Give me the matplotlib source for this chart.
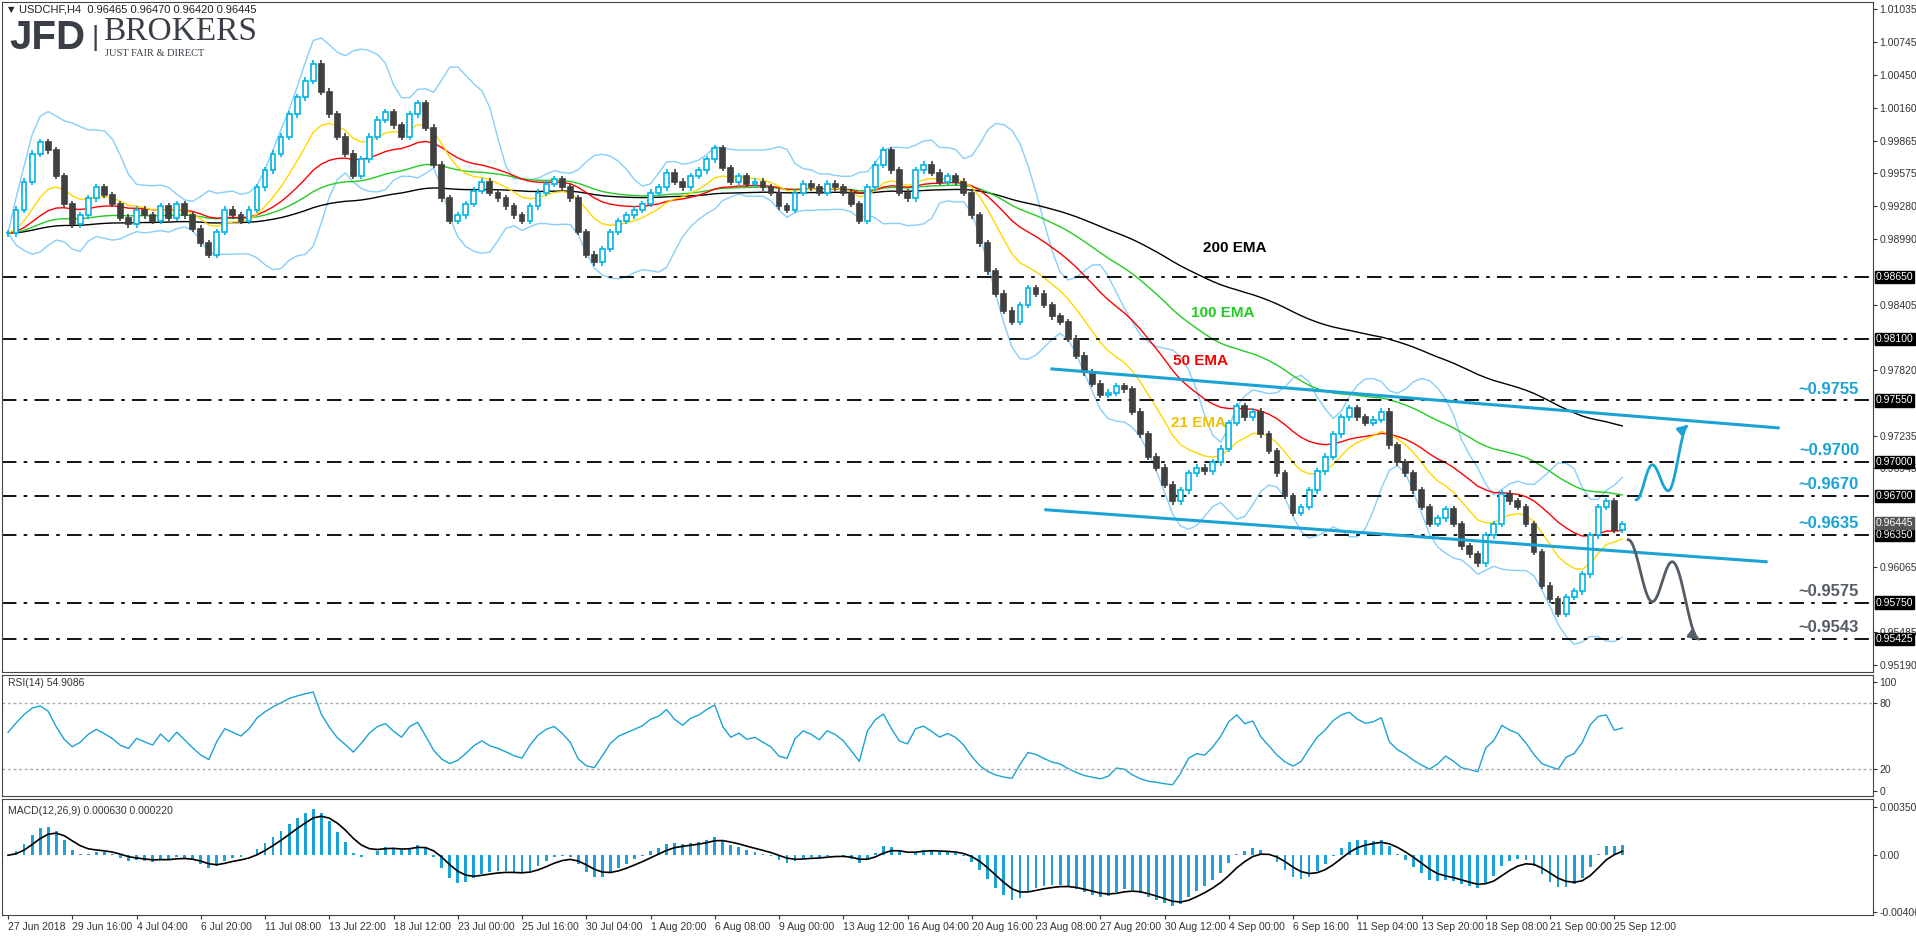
import numpy as np
import matplotlib
matplotlib.use("Agg")
import matplotlib.pyplot as plt
from matplotlib.patches import Rectangle

# ---------------- data ----------------
closes = [0.9904,0.9925,0.9950,0.9975,0.9985,0.9978,0.9955,0.9930,0.9912,0.9920,
          0.9935,0.9945,0.9938,0.9930,0.9918,0.9912,0.9925,0.9920,0.9915,0.9928,
          0.9918,0.9930,0.9920,0.9908,0.9895,0.9885,0.9905,0.9925,0.9920,0.9915,
          0.9925,0.9945,0.9960,0.9975,0.9990,1.0010,1.0025,1.0040,1.0055,1.0030,
          1.0010,0.9990,0.9975,0.9955,0.9970,0.9990,1.0005,1.0012,1.0000,0.9990,
          1.0010,1.0020,0.9998,0.9965,0.9935,0.9915,0.9920,0.9930,0.9942,0.9950,
          0.9940,0.9935,0.9928,0.9920,0.9915,0.9928,0.9940,0.9948,0.9952,0.9945,
          0.9935,0.9905,0.9885,0.9878,0.9890,0.9905,0.9915,0.9920,0.9925,0.9930,
          0.9940,0.9945,0.9958,0.9950,0.9945,0.9955,0.9960,0.9970,0.9980,0.9962,
          0.9950,0.9955,0.9948,0.9950,0.9945,0.9940,0.9928,0.9925,0.9940,0.9948,
          0.9945,0.9940,0.9948,0.9945,0.9940,0.9930,0.9915,0.9945,0.9965,0.9978,
          0.9960,0.9940,0.9935,0.9960,0.9965,0.9958,0.9950,0.9955,0.9950,0.9940,
          0.9920,0.9895,0.9870,0.9850,0.9835,0.9825,0.9840,0.9855,0.9850,0.9840,
          0.9830,0.9825,0.9810,0.9795,0.9780,0.9770,0.9760,0.9762,0.9768,0.9765,
          0.9745,0.9725,0.9705,0.9695,0.9680,0.9665,0.9675,0.9690,0.9695,0.9692,
          0.9700,0.9712,0.9735,0.9750,0.9740,0.9745,0.9725,0.9710,0.9690,0.9670,
          0.9655,0.9660,0.9675,0.9692,0.9705,0.9725,0.9740,0.9748,0.9740,0.9735,
          0.9738,0.9745,0.9715,0.9700,0.9690,0.9675,0.9660,0.9645,0.9650,0.9658,
          0.9645,0.9625,0.9618,0.9610,0.9635,0.9645,0.9672,0.9665,0.9660,0.9645,
          0.9620,0.9590,0.9578,0.9565,0.9580,0.9585,0.9600,0.9635,0.9660,0.9665,
          0.9640,0.9645]
date_labels = ["27 Jun 2018","29 Jun 16:00","4 Jul 04:00","6 Jul 20:00","11 Jul 08:00",
               "13 Jul 22:00","18 Jul 12:00","23 Jul 00:00","25 Jul 16:00","30 Jul 04:00",
               "1 Aug 20:00","6 Aug 08:00","9 Aug 00:00","13 Aug 12:00","16 Aug 04:00",
               "20 Aug 16:00","23 Aug 08:00","27 Aug 20:00","30 Aug 12:00","4 Sep 00:00",
               "6 Sep 16:00","11 Sep 04:00","13 Sep 20:00","18 Sep 08:00","21 Sep 00:00",
               "25 Sep 12:00"]
levels = [0.98650,0.98100,0.97550,0.97000,0.96700,0.96350,0.95750,0.95425]
level_texts = ["~0.9755","~0.9700","~0.9670","~0.9635","~0.9575","~0.9543"]
level_text_vals = [0.9755,0.9700,0.9670,0.9635,0.9575,0.9543]
price_ticks = [1.01035,1.00745,1.00450,1.00160,0.99865,0.99575,0.99280,0.98990,
               0.98405,0.97820,0.97235,0.96945,0.96065,0.95485,0.95190]
last_price = 0.96445

plt.rcParams['font.family'] = ['Liberation Sans', 'DejaVu Sans']

c = np.array(closes)
n = len(c)
o = np.r_[c[0], c[:-1]]
wick = 0.0003

def ema(x, p, init=None):
    a = 2/(p+1); out = np.empty_like(x); out[0] = x[0] if init is None else init
    for i in range(1, len(x)):
        out[i] = a*x[i] + (1-a)*out[i-1]
    return out

# ---------------- figure ----------------
W, H = 1916, 936
fig = plt.figure(figsize=(W/100, H/100), dpi=100)
fig.patch.set_facecolor("white")
L, R = 2/W, 1873/W
ax = fig.add_axes([L, 1-672/H, R-L, 670/H])
ax2 = fig.add_axes([L, 1-796/H, R-L, 121/H])
ax3 = fig.add_axes([L, 1-915/H, R-L, 116/H])
xmax = (1873-6)/8.04
for a in (ax, ax2, ax3):
    a.set_xlim(-0.75, xmax)
    a.yaxis.tick_right()
    a.tick_params(axis="y", labelsize=7.5, colors="#333333", length=3, pad=1.5)
    a.set_xticks([])
    for s in a.spines.values():
        s.set_color("#444444")
ax.set_ylim(0.95131, 1.0110)

def px_x(x): return (x-6)/8.04
def px_y(y): return 1.01035-(y-9)*8.9e-5

# Bollinger + EMAs
ma = np.array([c[max(0,i-9):i+1].mean() for i in range(n)])
sd = np.array([c[max(0,i-9):i+1].std() for i in range(n)])
idx = np.arange(n)
ax.plot(idx, ma+2*sd, color="#87cefa", lw=1)
ax.plot(idx, ma-2*sd, color="#87cefa", lw=1)
ax.plot(idx, ema(c, 100), color="black", lw=1)
ax.plot(idx, ema(c, 50), color="#22cc22", lw=1)
ax.plot(idx, ema(c, 25), color="red", lw=1)
ax.plot(idx, ema(c, 10.5), color="#ffd700", lw=1)

# candles
for i in range(n):
    up = c[i] >= o[i]
    col = "#00b4e6" if up else "#404040"
    lo_, hi_ = min(o[i], c[i]), max(o[i], c[i])
    ax.vlines(i, lo_-wick, hi_+wick, color=col, lw=1.2, zorder=3)
    h = max(hi_-lo_, 0.00004)
    ax.add_patch(Rectangle((i-0.3, lo_), 0.6, h, facecolor="white" if up else col,
                           edgecolor=col, lw=1.2, zorder=4))

# levels
for lv in levels:
    ax.axhline(lv, color="black", lw=1.3, ls=(0, (8, 4, 2, 4)), zorder=2)
    ax.text(1.0015, lv, f"{lv:.5f}", transform=ax.get_yaxis_transform(), va="center",
            ha="left", fontsize=7.5, color="white", zorder=6,
            bbox=dict(boxstyle="square,pad=0.1", fc="black", ec="black"))
ax.text(1.0015, last_price+0.0001, f"{last_price:.5f}", transform=ax.get_yaxis_transform(),
        va="center", ha="left", fontsize=7.5, color="white", zorder=6,
        bbox=dict(boxstyle="square,pad=0.1", fc="#555555", ec="#555555"))
ax.set_yticks(price_ticks)
ax.set_yticklabels([f"{t:.5f}" for t in price_ticks])

for t, v in zip(level_texts, level_text_vals):
    col = "#1aa3d4" if v > 0.96 else "#555c66"
    ax.text(px_x(1859), v+0.00035, t, ha="right", va="bottom", fontsize=12,
            fontweight="bold", color=col)

# channel lines
ax.plot([px_x(1051), px_x(1778)], [px_y(369), px_y(428)], color="#1aa3d4", lw=2.2, zorder=5)
ax.plot([px_x(1045), px_x(1766)], [px_y(510), px_y(562)], color="#1aa3d4", lw=2.2, zorder=5)

def wave(pts, col):
    xs, ys = [], []
    for (x0, y0), (x1, y1) in zip(pts[:-1], pts[1:]):
        t = np.linspace(0, 1, 30)
        s = (1-np.cos(np.pi*t))/2
        xs += list(x0+(x1-x0)*t); ys += list(y0+(y1-y0)*s)
    xs = [px_x(v) for v in xs]; ys = [px_y(v) for v in ys]
    ax.plot(xs[:-3], ys[:-3], color=col, lw=2, zorder=5)
    ax.annotate("", xy=(xs[-1], ys[-1]), xytext=(xs[-4], ys[-4]),
                arrowprops=dict(arrowstyle="-|>", color=col, lw=2, mutation_scale=14), zorder=5)

wave([(1636, 500), (1652, 465), (1668, 491), (1688, 425)], "#1aa3d4")
wave([(1628, 540), (1652, 602), (1672, 562), (1699, 640)], "#555c66")

ax.text(px_x(1202), px_y(248), "200 EMA", fontsize=11, fontweight="bold", color="black", va="center")
ax.text(px_x(1190), px_y(313), "100 EMA", fontsize=11, fontweight="bold", color="#22cc22", va="center")
ax.text(px_x(1172), px_y(361), "50 EMA", fontsize=11, fontweight="bold", color="red", va="center")
ax.text(px_x(1170), px_y(423), "21 EMA", fontsize=11, fontweight="bold", color="#f0c000", va="center")

# header / logo
fig.text(8/W, 1-10/H, "▼", fontsize=6, color="#222222", va="center", family="DejaVu Sans")
fig.text(19/W, 1-10/H, "USDCHF,H4  0.96465 0.96470 0.96420 0.96445", fontsize=8, color="#222222", va="center")
fig.text(9/W, 1-38/H, "JFD", fontsize=29, fontweight="bold", color="#3a3f47", va="center")
fig.text(92/W, 1-38/H, "|", fontsize=20, color="#3a3f47", va="center")
fig.text(103/W, 1-32/H, "BROKERS", fontsize=24, family="Liberation Serif", color="#3a3f47", va="center")
fig.text(105/W, 1-53/H, "JUST FAIR & DIRECT", fontsize=7.5, family="Liberation Serif", color="#3a3f47", va="center")

# RSI
d = np.diff(c, prepend=c[0])
g = np.where(d > 0, d, 0); lo = np.where(d < 0, -d, 0)
ag = ema(g, 13, init=g[1:15].mean()); al = ema(lo, 13, init=lo[1:15].mean())
rsi = 100 - 100/(1+ag/np.maximum(al, 1e-9))
ax2.plot(idx, rsi, color="#1aa3d4", lw=1)
ax2.set_ylim(-5, 106)
ax2.set_yticks([0, 20, 80, 100])
for lv in (20, 80):
    ax2.axhline(lv, color="#aaaaaa", lw=1, ls=(0, (2, 2)))
ax2.text(0.003, 0.93, "RSI(14) 54.9086", transform=ax2.transAxes, fontsize=7.5, color="#333", va="center")

# MACD
macd = ema(c, 6) - ema(c, 13)
sig = ema(macd, 4.5)
ax3.bar(idx, macd, width=0.35, color="#1aa3d4")
ax3.plot(idx, sig, color="black", lw=1.2)
ax3.set_ylim(-0.00430, 0.00405)
ax3.set_yticks([0.003505, 0.0, -0.004065])
ax3.set_yticklabels(["0.003505", "0.00", "-0.004065"])
ax3.text(0.003, 0.9, "MACD(12,26,9) 0.000630 0.000220", transform=ax3.transAxes, fontsize=7.5, color="#333", va="center")
ax3.set_xticks(np.arange(0, 8*len(date_labels), 8))
ax3.set_xticklabels(date_labels, fontsize=7.5, ha="left")
ax3.tick_params(axis="x", length=3, pad=2, colors="#333333")

fig.savefig("out.png", dpi=100)
